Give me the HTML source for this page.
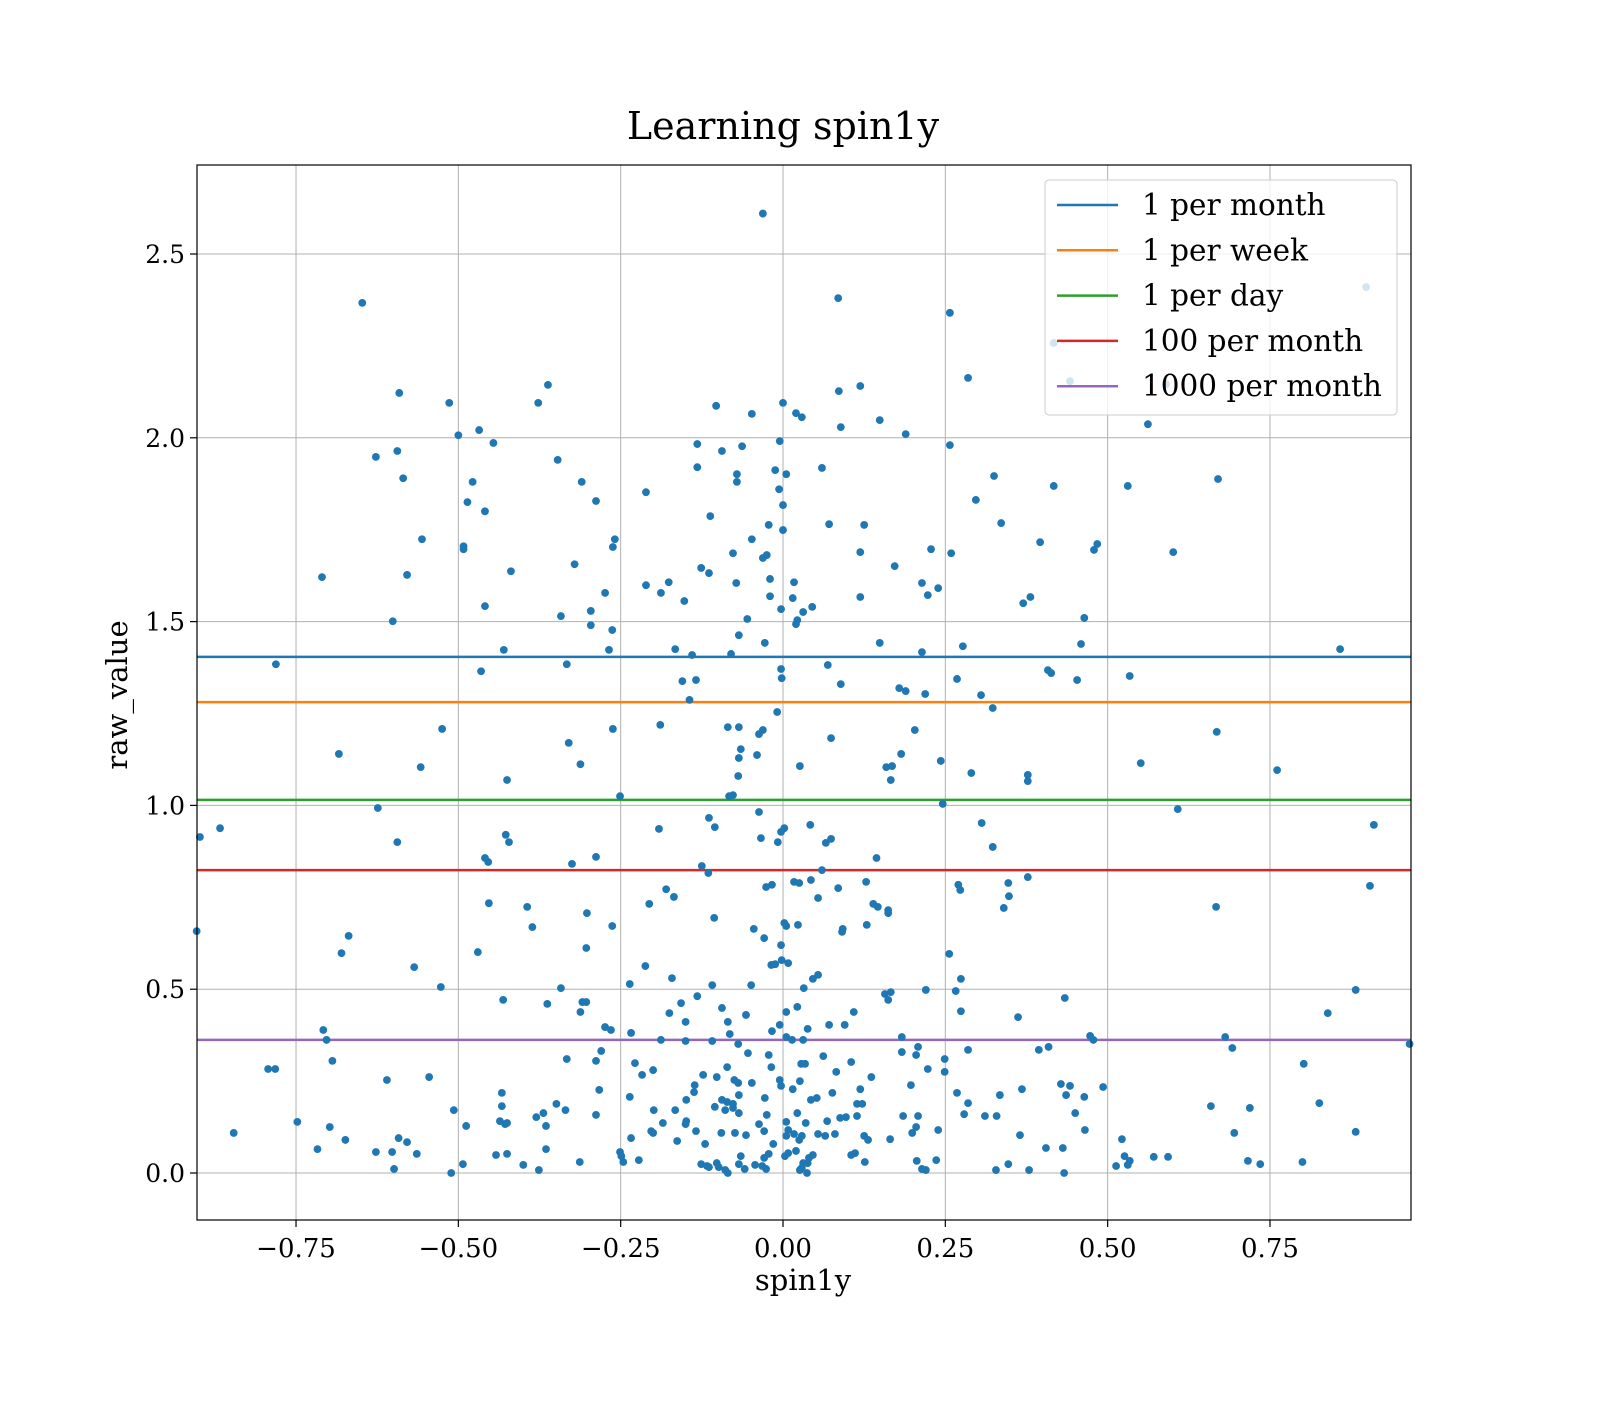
<!DOCTYPE html>
<html><head><meta charset="utf-8">
<style>
html,body{margin:0;padding:0;background:#fff;}
svg text{font-family:"DejaVu Serif","Liberation Serif",serif;fill:#000;}
</style></head>
<body>
<svg id="chart" width="1600" height="1400" viewBox="0 0 1600 1400" xmlns="http://www.w3.org/2000/svg">
<rect width="1600" height="1400" fill="#fff"/>
<text x="783" y="139" font-size="38" text-anchor="middle">Learning spin1y</text>
<g id="grid"></g><g id="hlines"></g><g id="points"></g>
<rect x="197" y="165" width="1214" height="1055" fill="none" stroke="#000" stroke-width="1.2"/>
<g id="axes"></g>
<text x="803" y="1290" font-size="29" text-anchor="middle">spin1y</text>
<text transform="translate(127,695) rotate(-90)" font-size="29" text-anchor="middle">raw_value</text>
<g id="legend"></g>
</svg>
<script>
const xTicks=[-0.75,-0.5,-0.25,0,0.25,0.5,0.75];
const xTickLabels=["\u22120.75","\u22120.50","\u22120.25","0.00","0.25","0.50","0.75"];
const yTicks=[0,0.5,1,1.5,2,2.5];
const yTickLabels=["0.0","0.5","1.0","1.5","2.0","2.5"];
const lineNames=["1 per month","1 per week","1 per day","100 per month","1000 per month"];
const lineValues=[1.404,1.281,1.015,0.824,0.362];
const lineColors=["#1f77b4","#ff7f0e","#2ca02c","#d62728","#9467bd"];
const xs=[-0.031,-0.648,0.085,0.257,0.898,-0.362,-0.591,-0.514,-0.377,-0.103,0,0.119,0.086,0.285,0.02,0.029,-0.048,0.149,0.089,0.417,0.442,0.59,0.562,-0.5,-0.468,-0.446,-0.627,-0.594,-0.347,-0.132,-0.063,-0.005,-0.094,-0.132,-0.071,-0.071,-0.012,0.005,0.06,0.189,0.257,-0.585,-0.478,-0.31,-0.211,-0.006,0.325,0.417,0.531,0.67,-0.486,-0.288,0.297,-0.459,-0.112,0,0.071,0.125,0.336,0,-0.022,-0.556,-0.259,-0.262,-0.492,-0.492,-0.048,0.119,0.228,0.259,0.396,0.484,0.479,0.601,-0.077,-0.025,-0.031,-0.321,-0.419,-0.71,-0.579,-0.114,-0.126,0.172,-0.211,-0.176,-0.188,-0.274,-0.072,-0.02,0.017,0.214,0.239,0.223,0.119,-0.02,0.015,-0.152,-0.459,0.045,0.031,-0.003,0.37,0.381,-0.601,-0.342,-0.296,-0.296,-0.055,0.022,0.02,0.464,-0.263,-0.068,0.459,0.277,0.149,-0.028,-0.43,-0.268,-0.166,-0.14,-0.08,0.214,0.858,-0.781,-0.333,-0.465,-0.003,0.069,0.408,0.413,-0.155,-0.134,-0.002,0.268,0.453,0.534,0.089,0.179,0.189,0.219,0.305,-0.144,0.323,-0.009,-0.525,-0.262,-0.189,-0.085,-0.068,-0.031,-0.037,0.203,0.668,0.074,-0.33,-0.065,-0.684,-0.04,-0.068,0.182,-0.312,-0.558,0.026,0.159,0.168,0.243,0.551,0.761,-0.069,-0.425,0.166,0.29,0.377,0.377,-0.251,-0.077,-0.083,0.246,-0.624,0.608,-0.898,-0.867,-0.037,0.306,0.91,-0.114,-0.191,-0.105,0.042,0.002,-0.003,-0.427,-0.422,-0.594,-0.034,-0.008,0.066,0.074,0.323,-0.288,-0.459,-0.454,0.144,-0.325,-0.125,-0.115,0.06,0.377,0.017,0.025,0.043,0.128,-0.017,-0.026,0.085,0.27,0.273,0.347,0.904,-0.18,-0.168,0.054,0.348,-0.453,-0.206,-0.394,0.139,0.146,0.162,0.162,0.34,0.667,-0.302,-0.106,0.002,0.005,0.023,-0.903,-0.386,-0.263,-0.045,0.092,0.091,0.129,-0.669,-0.029,-0.003,-0.303,-0.68,-0.47,0.256,-0.002,-0.012,-0.018,0.008,0.054,0.046,-0.212,-0.568,-0.171,0.274,-0.049,-0.109,-0.236,0.032,-0.527,-0.342,0.22,0.266,0.882,0.157,0.166,-0.132,0.434,-0.431,-0.309,-0.303,-0.363,-0.157,0.162,0.022,-0.094,0.109,0.005,-0.312,-0.175,-0.057,0.274,0.362,0.839,-0.15,-0.085,0.095,0.071,-0.005,0.038,-0.274,-0.265,-0.708,-0.017,-0.082,0.473,0.681,0.183,-0.703,-0.234,-0.188,-0.15,-0.069,0.005,0.014,0.031,0.478,0.965,-0.109,0.285,0.692,0.394,0.409,-0.28,0.208,0.183,0.205,-0.054,-0.022,0.062,-0.694,-0.333,-0.288,-0.228,0.034,0.028,0.105,0.249,0.802,-0.018,-0.086,0.223,-0.793,-0.782,-0.2,-0.217,0.082,0.249,-0.123,-0.102,-0.545,-0.61,-0.075,0.026,-0.048,-0.005,-0.003,0.136,0.442,0.428,0.368,0.493,-0.136,-0.137,-0.069,0.197,0.119,0.076,-0.433,-0.283,0.268,0.436,0.334,-0.068,0.015,-0.236,-0.028,0.052,0.464,-0.149,-0.094,0.043,-0.349,-0.077,-0.086,0.114,0.122,0.285,0.826,0.659,-0.433,-0.166,-0.507,-0.369,-0.335,-0.077,0.719,-0.089,-0.199,-0.105,0.279,0.311,0.329,0.185,0.208,-0.025,-0.068,0.022,-0.288,-0.38,0.45,0.114,0.088,0.068,0.097,-0.436,-0.748,-0.149,-0.185,-0.15,-0.428,-0.425,0.005,-0.037,0.035,-0.698,-0.488,-0.365,0.239,0.465,-0.203,-0.134,0.008,-0.029,0.205,0.08,-0.095,-0.846,0.695,0.882,-0.2,-0.074,0.054,0.065,0.017,0.125,0.199,0.365,0.005,-0.234,-0.057,0.025,0.029,-0.674,0.165,0.131,-0.592,-0.579,0.522,-0.163,-0.717,-0.12,-0.015,-0.365,-0.627,-0.602,-0.564,-0.442,-0.425,-0.251,-0.249,0.111,0.105,0.02,0.008,0.003,-0.022,-0.065,-0.029,0.405,0.431,0.526,0.571,0.534,0.593,-0.222,-0.313,-0.246,0.04,0.046,-0.102,0.236,0.206,0.716,0.735,0.8,0.126,-0.493,-0.126,-0.117,-0.114,-0.068,-0.043,-0.032,0.031,0.038,-0.4,0.347,0.513,0.531,0.214,0.22,-0.026,-0.059,-0.099,-0.089,0.029,0.026,-0.376,-0.599,0.379,0.328,-0.511,-0.085,0.037,0.433];
const ys=[2.61,2.367,2.38,2.34,2.41,2.144,2.122,2.095,2.095,2.087,2.095,2.141,2.127,2.163,2.067,2.056,2.065,2.048,2.029,2.258,2.154,2.146,2.037,2.007,2.021,1.986,1.948,1.964,1.94,1.983,1.977,1.991,1.964,1.92,1.901,1.88,1.912,1.901,1.918,2.01,1.98,1.89,1.88,1.88,1.852,1.86,1.896,1.869,1.869,1.888,1.825,1.828,1.831,1.8,1.787,1.817,1.765,1.763,1.768,1.749,1.763,1.724,1.724,1.703,1.705,1.697,1.724,1.689,1.697,1.686,1.716,1.711,1.695,1.689,1.686,1.681,1.673,1.656,1.637,1.621,1.627,1.632,1.646,1.651,1.599,1.607,1.578,1.578,1.605,1.616,1.607,1.605,1.591,1.572,1.567,1.569,1.564,1.556,1.542,1.54,1.526,1.534,1.55,1.567,1.501,1.515,1.529,1.49,1.507,1.504,1.493,1.51,1.477,1.463,1.439,1.433,1.442,1.442,1.423,1.423,1.425,1.409,1.412,1.417,1.425,1.384,1.384,1.365,1.371,1.382,1.368,1.36,1.338,1.341,1.346,1.344,1.341,1.352,1.33,1.319,1.311,1.303,1.3,1.287,1.265,1.254,1.208,1.208,1.219,1.213,1.213,1.205,1.194,1.205,1.2,1.183,1.17,1.153,1.14,1.137,1.129,1.14,1.112,1.104,1.107,1.104,1.107,1.121,1.115,1.096,1.08,1.069,1.069,1.088,1.083,1.066,1.025,1.028,1.025,1.004,0.993,0.99,0.914,0.938,0.982,0.952,0.947,0.966,0.936,0.941,0.947,0.938,0.928,0.92,0.9,0.9,0.911,0.9,0.898,0.909,0.887,0.86,0.857,0.846,0.857,0.841,0.835,0.816,0.824,0.805,0.792,0.789,0.797,0.792,0.784,0.778,0.775,0.784,0.77,0.789,0.781,0.772,0.751,0.748,0.753,0.734,0.732,0.724,0.732,0.724,0.715,0.707,0.721,0.724,0.707,0.694,0.68,0.672,0.675,0.658,0.669,0.672,0.664,0.664,0.656,0.675,0.645,0.639,0.62,0.612,0.598,0.601,0.596,0.579,0.568,0.566,0.571,0.539,0.528,0.563,0.56,0.53,0.528,0.511,0.511,0.514,0.503,0.506,0.503,0.498,0.495,0.498,0.487,0.492,0.481,0.476,0.471,0.465,0.465,0.46,0.462,0.471,0.452,0.449,0.438,0.438,0.438,0.435,0.43,0.44,0.424,0.435,0.411,0.411,0.403,0.403,0.403,0.392,0.397,0.389,0.389,0.386,0.378,0.373,0.37,0.37,0.362,0.381,0.362,0.359,0.351,0.37,0.362,0.362,0.362,0.351,0.359,0.335,0.34,0.335,0.343,0.332,0.343,0.329,0.321,0.326,0.321,0.318,0.305,0.31,0.305,0.299,0.297,0.297,0.302,0.31,0.297,0.288,0.288,0.283,0.283,0.283,0.28,0.267,0.275,0.275,0.267,0.261,0.261,0.253,0.253,0.25,0.245,0.253,0.237,0.261,0.237,0.242,0.228,0.234,0.239,0.22,0.245,0.239,0.228,0.218,0.218,0.226,0.218,0.212,0.212,0.212,0.228,0.207,0.204,0.204,0.207,0.199,0.199,0.199,0.188,0.188,0.193,0.188,0.188,0.19,0.19,0.182,0.182,0.171,0.171,0.163,0.171,0.177,0.177,0.171,0.171,0.18,0.16,0.155,0.155,0.155,0.155,0.158,0.163,0.163,0.158,0.152,0.163,0.155,0.15,0.141,0.152,0.141,0.139,0.141,0.136,0.133,0.133,0.136,0.139,0.133,0.136,0.125,0.128,0.128,0.117,0.117,0.114,0.114,0.117,0.114,0.125,0.106,0.109,0.109,0.109,0.112,0.109,0.109,0.106,0.101,0.106,0.101,0.109,0.103,0.101,0.095,0.103,0.09,0.101,0.09,0.092,0.09,0.095,0.084,0.092,0.087,0.065,0.079,0.079,0.065,0.057,0.057,0.052,0.049,0.052,0.057,0.046,0.054,0.049,0.06,0.054,0.046,0.052,0.046,0.041,0.068,0.068,0.046,0.044,0.033,0.044,0.035,0.03,0.03,0.041,0.049,0.027,0.035,0.033,0.033,0.024,0.03,0.03,0.024,0.024,0.019,0.016,0.024,0.022,0.019,0.027,0.027,0.022,0.024,0.019,0.022,0.011,0.008,0.011,0.011,0.016,0.008,0.014,0.008,0.008,0.011,0.008,0.008,0.0,0.0,0.0,0.0];

const NS="http://www.w3.org/2000/svg";
const L=197,R=1411,T=165,B=1220;
function sx(v){return 783+v*649.3;}
function sy(v){return 1173-v*367.6;}
function mk(tag,attrs,parent){const e=document.createElementNS(NS,tag);for(const k in attrs)e.setAttribute(k,attrs[k]);parent.appendChild(e);return e;}
const grid=document.getElementById('grid'),axes=document.getElementById('axes');
xTicks.forEach((t,i)=>{
  const x=sx(t);
  const g=mk('line',{x1:x,x2:x,y1:T,y2:B,stroke:'#b0b0b0','stroke-width':1},grid);
  
  
  const tk=mk('line',{x1:x,x2:x,y1:B,y2:B+7,stroke:'#000','stroke-width':1.2},axes);
  
  
  const tx=mk('text',{x:x,y:B+37,'font-size':26,'text-anchor':'middle'},axes);
  tx.textContent=xTickLabels[i];
  
  
});
yTicks.forEach((t,i)=>{
  const y=sy(t);
  const g=mk('line',{x1:L,x2:R,y1:y,y2:y,stroke:'#b0b0b0','stroke-width':1},grid);
  
  
  const tk=mk('line',{x1:L-7,x2:L,y1:y,y2:y,stroke:'#000','stroke-width':1.2},axes);
  
  
  const tx=mk('text',{x:L-12,y:y+9,'font-size':25,'text-anchor':'end'},axes);
  tx.textContent=yTickLabels[i];
  
  
});
const pts=document.getElementById('points');
xs.forEach((x,i)=>{
  const c=mk('circle',{cx:sx(x),cy:sy(ys[i]),r:3.9,fill:'#1f77b4'},pts);
  
  
});
const hl=document.getElementById('hlines');
lineValues.forEach((v,i)=>{
  const l=mk('line',{x1:L,x2:R,y1:sy(v),y2:sy(v),stroke:lineColors[i],'stroke-width':2.5},hl);
  
  
});
const lg=document.getElementById('legend');
const box=mk('rect',{x:1045,y:180,width:352,height:235,rx:4,fill:'rgba(255,255,255,0.8)',stroke:'#ccc','stroke-width':1},lg);


lineNames.forEach((n,i)=>{
  const y=205+i*45.3;
  const l=mk('line',{x1:1057,x2:1118,y1:y,y2:y,stroke:lineColors[i],'stroke-width':2.5},lg);
  
  
  const t=mk('text',{x:1142,y:y+10,'font-size':29.5},lg);
  t.textContent=n;
  
  
});
</script>
</body></html>
